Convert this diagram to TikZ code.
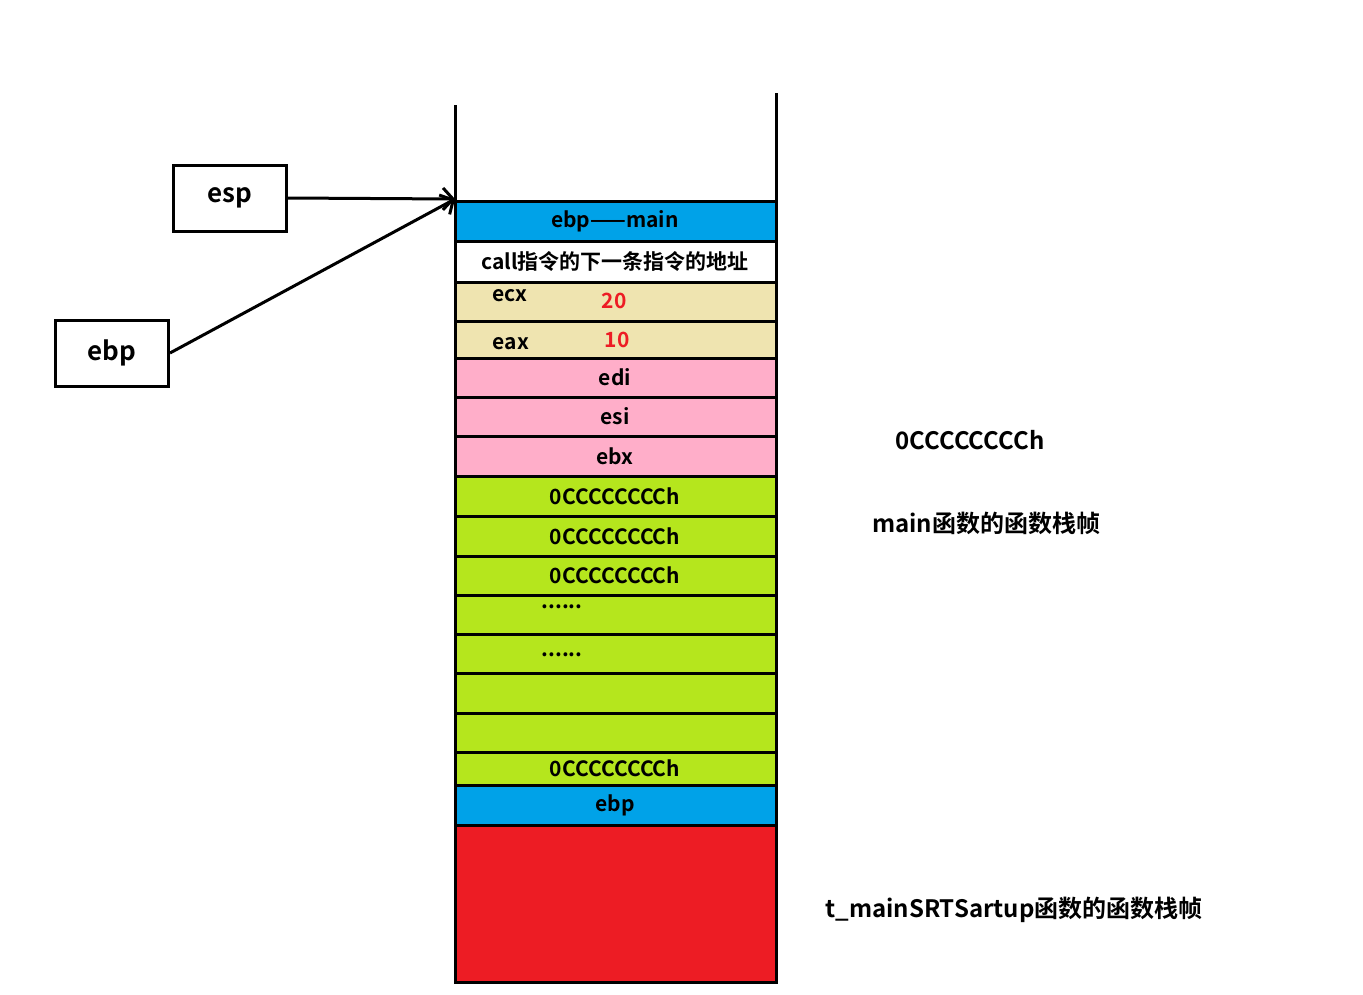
\documentclass[tikz,border=0pt]{standalone}
\usepackage{fontspec}
\setmainfont{Noto Sans CJK SC}[BoldFont={* Bold}]
\usetikzlibrary{arrows.meta}
\definecolor{cblue}{HTML}{00A2E8}
\definecolor{ctan}{HTML}{EFE4B0}
\definecolor{cpink}{HTML}{FFAEC9}
\definecolor{cgreen}{HTML}{B5E61D}
\definecolor{cred}{HTML}{ED1C24}
\tikzset{cell/.style={draw=black,line width=3pt},
 lab/.style={font=\bfseries\fontsize{21}{24}\selectfont,inner sep=0pt},
 regbox/.style={draw=black,line width=3pt,minimum width=113pt,minimum height=66pt,font=\bfseries\fontsize{26}{30}\selectfont}}
\begin{document}
\begin{tikzpicture}[x=1pt,y=-1pt]
\useasboundingbox (0,0) rectangle (1363,994);
\def\cellrow#1#2#3#4{\filldraw[cell,fill=#1] (455,#2) rectangle (776,#3); \node[lab] at (615,{(#2+#3)/2}) {#4};}
\cellrow{cblue}{201}{241}{ebp——main}
\cellrow{white}{241}{282}{call指令的下一条指令的地址}
\cellrow{ctan}{282}{321}{}
\cellrow{ctan}{321}{358}{}
\cellrow{cpink}{358}{397}{edi}
\cellrow{cpink}{397}{436}{esi}
\cellrow{cpink}{436}{476}{ebx}
\cellrow{cgreen}{476}{516}{0CCCCCCCCh}
\cellrow{cgreen}{516}{556}{0CCCCCCCCh}
\cellrow{cgreen}{556}{595}{0CCCCCCCCh}
\cellrow{cgreen}{595}{634}{}
\cellrow{cgreen}{634}{673}{}
\cellrow{cgreen}{673}{713}{}
\cellrow{cgreen}{713}{752}{}
\cellrow{cgreen}{752}{785}{0CCCCCCCCh}
\cellrow{cblue}{785}{825}{ebp}
\filldraw[cell,fill=cred] (455,825) rectangle (776,982);
\node[lab] at (510,296) {ecx};
\node[lab,text=cred] at (614,301) {20};
\node[lab] at (511,344) {eax};
\node[lab,text=cred] at (617,340) {10};
\node[lab] at (562,607) {......};
\node[lab] at (562,655) {......};
\draw[line width=3pt] (455,105) -- (455,982);
\draw[line width=3pt] (776,93) -- (776,982);
\node[regbox] (esp) at (230,198) {esp};
\node[regbox] (ebp) at (112,353) {ebp};
\coordinate (top) at (455,199);
\draw[line width=3pt,-{Straight Barb[length=10pt,width=22pt]}] (esp.east) -- (top);
\draw[line width=3pt,-{Straight Barb[length=10pt,width=22pt]}] (ebp.east) -- (top);
\node[lab,font=\bfseries\fontsize{24}{28}\selectfont] (c) at (970,440) {0CCCCCCCCh};
\node[lab,font=\bfseries\fontsize{24}{28}\selectfont] (m) at (986,523) {main函数的函数栈帧};
\node[lab,font=\bfseries\fontsize{24}{28}\selectfont] (t) at (1014,910) {t\_mainSRTSartup函数的函数栈帧};
\end{tikzpicture}
\end{document}
